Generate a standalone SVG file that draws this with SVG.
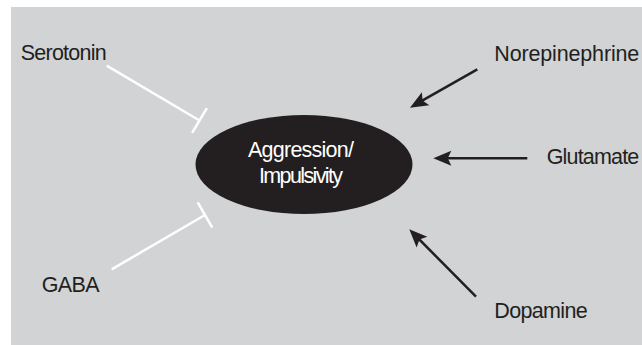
<svg xmlns="http://www.w3.org/2000/svg" width="642" height="345" viewBox="0 0 642 345">
  <style>
    .lbl { font-family: "Liberation Sans", Arial, sans-serif; font-size: 21.5px; fill: #231f20; }
    .ctr { font-family: "Liberation Sans", Arial, sans-serif; font-size: 21.5px; fill: #ffffff; text-anchor: middle; }
    .inh { stroke: #ffffff; stroke-width: 2.5; fill: none; marker-end: url(#tbar); }
    .act { stroke: #231f20; stroke-width: 2.5; fill: none; marker-end: url(#arrow); }
  </style>
  <defs>
    <marker id="arrow" markerUnits="userSpaceOnUse" markerWidth="20" markerHeight="16" refX="10" refY="7.5" orient="auto" overflow="visible">
      <path d="M0,0 L18,7.5 L0,15 L3.5,7.5 Z" fill="#231f20"/>
    </marker>
    <marker id="tbar" markerUnits="userSpaceOnUse" markerWidth="6" markerHeight="32" refX="1" refY="15" orient="auto" overflow="visible">
      <path d="M1,0.5 L1,29.5" stroke="#ffffff" stroke-width="2.5"/>
    </marker>
  </defs>
  <rect x="11" y="7" width="631" height="338" fill="#d1d3d4"/>

  <g id="connectors">
    <line class="inh" x1="106.7" y1="65.7" x2="199.5" y2="120.5"/>
    <line class="inh" x1="111.7" y1="269.3" x2="205" y2="215"/>
    <line class="act" x1="477.3" y1="69.3" x2="416.9" y2="103.7"/>
    <line class="act" x1="527.3" y1="158.3" x2="441.3" y2="158.3"/>
    <line class="act" x1="476" y1="296.7" x2="414.9" y2="235"/>
  </g>

  <g id="center">
    <ellipse cx="304" cy="164.5" rx="108.5" ry="49.5" fill="#231f20"/>
    <text class="ctr" x="301" y="157.3" textLength="106">Aggression/</text>
    <text class="ctr" x="301" y="183.3" textLength="84">Impulsivity</text>
  </g>
  <g id="serotonin">
    <text class="lbl" x="20.7" y="59.5" textLength="86">Serotonin</text>
  </g>
  <g id="gaba">
    <text class="lbl" x="41.7" y="291.7" textLength="58">GABA</text>
  </g>
  <g id="norepinephrine">
    <text class="lbl" x="494.3" y="60.7" textLength="145">Norepinephrine</text>
  </g>
  <g id="glutamate">
    <text class="lbl" x="546.7" y="164" textLength="92.6">Glutamate</text>
  </g>
  <g id="dopamine">
    <text class="lbl" x="494.3" y="318.3" textLength="93.4">Dopamine</text>
  </g>
</svg>
